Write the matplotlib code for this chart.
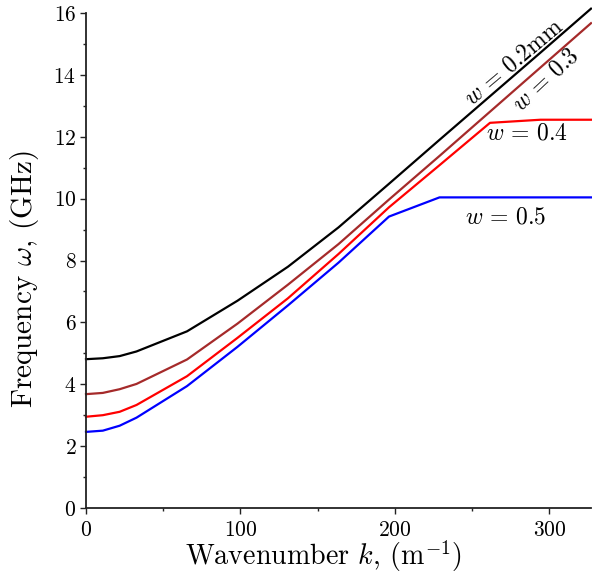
import matplotlib
matplotlib.use("Agg")
import matplotlib.pyplot as plt
from matplotlib.ticker import MultipleLocator

plt.rcParams['font.family'] = ['cmr10', 'DejaVu Serif']
plt.rcParams['mathtext.fontset'] = 'cm'
plt.rcParams['axes.formatter.use_mathtext'] = True

k = [0, 10.9, 21.8, 32.7, 65.4, 98.1, 130.8, 163.5, 196.2, 228.9, 261.6, 294.3, 327.0]
w02 = [4.81, 4.84, 4.91, 5.06, 5.71, 6.70, 7.80, 9.07, 10.48, 11.90, 13.31, 14.72, 16.14]
w03 = [3.68, 3.72, 3.84, 4.01, 4.80, 5.96, 7.22, 8.53, 9.97, 11.38, 12.81, 14.24, 15.67]
w04 = [2.95, 3.00, 3.11, 3.33, 4.26, 5.50, 6.78, 8.21, 9.72, 11.08, 12.45, 12.55, 12.55]
w05 = [2.46, 2.50, 2.66, 2.92, 3.94, 5.21, 6.55, 7.93, 9.42, 10.04, 10.04, 10.04, 10.04]

fig = plt.figure(figsize=(5.92, 5.74), dpi=100)
ax = fig.add_axes([86/592, 1-508/574, (591-86)/592, (508-13)/574])

lw = 1.6
ax.plot(k, w02, color='black', lw=lw, clip_on=False)
ax.plot(k, w03, color='#a52a2a', lw=lw, clip_on=False)
ax.plot(k, w04, color='red', lw=lw, clip_on=False)
ax.plot(k, w05, color='blue', lw=lw, clip_on=False)

ax.set_xlim(0, 327)
ax.set_ylim(0, 16)
for s in ['top', 'right']:
    ax.spines[s].set_visible(False)
for s in ['left', 'bottom']:
    ax.spines[s].set_linewidth(1.3)
    ax.spines[s].set_color('#222222')

ax.xaxis.set_major_locator(MultipleLocator(100))
ax.xaxis.set_minor_locator(MultipleLocator(50))
ax.yaxis.set_major_locator(MultipleLocator(2))
ax.yaxis.set_minor_locator(MultipleLocator(1))
ax.tick_params(which='major', length=4, width=1, labelsize=15.5, color='#222222')
ax.tick_params(which='minor', length=2.5, width=1, color='#222222')
ax.tick_params(axis='x', pad=5)
ax.tick_params(axis='y', pad=3)

ax.set_xlabel(r'Wavenumber $k$, (m$^{-1}$)', fontsize=20.2)
ax.set_ylabel(r'Frequency $\omega$, (GHz)', fontsize=21)
ax.xaxis.set_label_coords(0.471, -0.061, transform=ax.transAxes)
ax.yaxis.set_label_coords(-0.122, 0.463, transform=ax.transAxes)
ax.xaxis.label.set_va('top')
ax.yaxis.label.set_va('center')

ax.text(277, 14.41, r'$w\,=\,0.2\mathrm{mm}$', fontsize=17, rotation=40,
        ha='center', va='center')
ax.text(297.7, 13.83, r'$w\,=\,0.3$', fontsize=17, rotation=43,
        ha='center', va='center')
ax.text(285.4, 12.12, r'$w\,=\,0.4$', fontsize=17, ha='center', va='center')
ax.text(271.8, 9.4, r'$w\,=\,0.5$', fontsize=17, ha='center', va='center')

fig.savefig('out.png', dpi=100)
